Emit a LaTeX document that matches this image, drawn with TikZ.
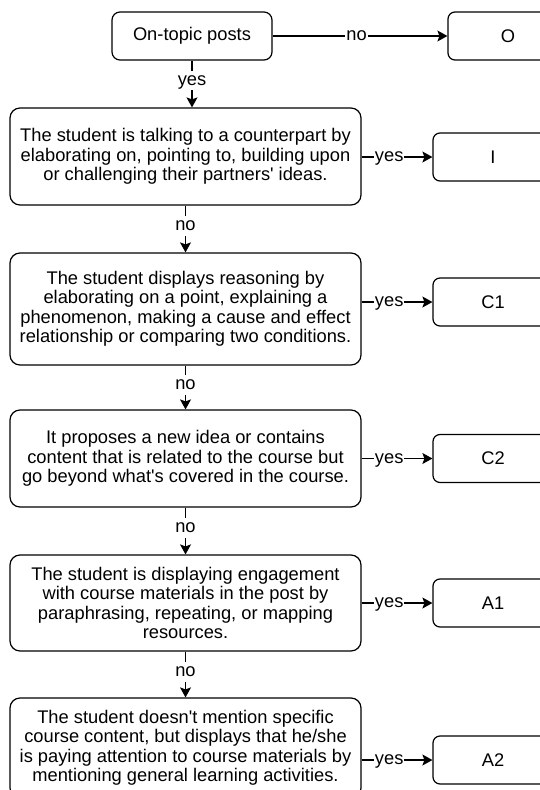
\documentclass[tikz,border=0pt]{standalone}
\usepackage{fontspec}
\setmainfont{Liberation Sans}
\usetikzlibrary{arrows.meta}

\begin{document}
\begin{tikzpicture}[x = 1pt, y = -1pt, line width = 1.2pt,
	> = {Stealth[length = 10pt, width = 11pt, inset = 2pt]},
	every node/.style = {font = \fontsize{18.3}{19.5}\selectfont},
	question/.style = {draw, rounded corners = 10pt, align = center, inner sep = 0pt, minimum width = 351pt},
	category/.style = {draw, rounded corners = 7pt, inner sep = 0pt, minimum width = 120pt, minimum height = 48pt},
	answer/.style = {fill = white, inner sep = 1pt, text height = 13.5pt, text depth = 4pt}]

	\useasboundingbox (0, 0) rectangle (540, 790);
	\clip (0, 0) rectangle (540, 790);

	% Questions

	\node [question, minimum width = 160pt, minimum height = 48pt, rounded corners = 8pt] (topic) at (192, 36) {On-topic posts};
	\node [question, minimum height = 97pt] (talk) at (185.5, 156.5) {The student is talking to a counterpart by\\elaborating on, pointing to, building upon\\or challenging their partners\textquotesingle{} ideas.};
	\node [question, minimum height = 112pt] (reason) at (185.5, 309) {The student displays reasoning by\\elaborating on a point, explaining a\\phenomenon, making a cause and effect\\relationship or comparing two conditions.};
	\node [question, minimum height = 97pt] (idea) at (185.5, 458.5) {It proposes a new idea or contains\\content that is related to the course but\\go beyond what\textquotesingle s covered in the course.};
	\node [question, minimum height = 96pt] (engage) at (185.5, 603) {The student is displaying engagement\\with course materials in the post by\\paraphrasing, repeating, or mapping\\resources.};
	\node [question, minimum height = 100pt] (attend) at (185.5, 748) {The student doesn\textquotesingle t mention specific\\course content, but displays that he/she\\is paying attention to course materials by\\mentioning general learning activities.};

	% Categories

	\node [category] (o) at (508, 36) {O};
	\node [category] (i) at (493, 157) {I};
	\node [category] (c1) at (493, 302) {C1};
	\node [category] (c2) at (493, 458.5) {C2};
	\node [category] (a1) at (493, 603) {A1};
	\node [category] (a2) at (493, 760) {A2};

	% Answers: no / yes

	\draw [->] (topic) -- node [answer, pos = 0.48] {no} (o);
	\draw [->] (topic) -- node [answer, pos = 0.42] {yes} (topic |- talk.north);
	\draw [->] (talk) -- node [answer, pos = 0.44] {no} (reason);
	\draw [->] (reason) -- node [answer, pos = 0.44] {no} (idea);
	\draw [->] (idea) -- node [answer, pos = 0.44] {no} (engage);
	\draw [->] (engage) -- node [answer, pos = 0.44] {no} (attend);

	\draw [->] (talk.east |- i) -- node [answer, pos = 0.39] {yes} (i);
	\draw [->] (reason.east |- c1) -- node [answer, pos = 0.39] {yes} (c1);
	\draw [->] (idea.east |- c2) -- node [answer, pos = 0.39] {yes} (c2);
	\draw [->] (engage.east |- a1) -- node [answer, pos = 0.39] {yes} (a1);
	\draw [->] (attend.east |- a2) -- node [answer, pos = 0.39] {yes} (a2);

\end{tikzpicture}
\end{document}
